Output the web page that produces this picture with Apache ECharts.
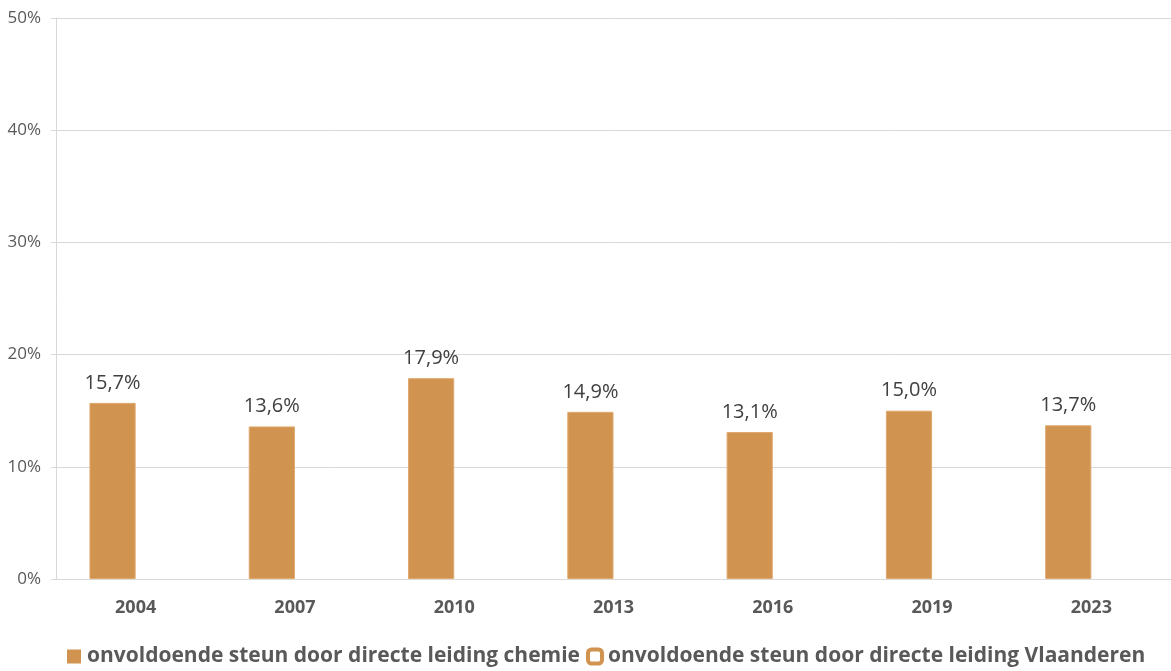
<!DOCTYPE html>
<html>
<head>
<meta charset="utf-8">
<script src="https://cdn.jsdelivr.net/npm/echarts@6/dist/echarts.min.js"></script>
<style>
  html, body { margin: 0; padding: 0; background: #fff; }
  #chart { width: 1171px; height: 671px; }
</style>
</head>
<body>
<div id="chart"></div>
<script>
const years = ['2004', '2007', '2010', '2013', '2016', '2019', '2023']
const chemie = [15.7, 13.6, 17.9, 14.9, 13.1, 15.0, 13.7]
// Vlaanderen series has no visible bars in the reference
const vlaanderen = [null, null, null, null, null, null, null]
const seriesNames = [
  'onvoldoende steun door directe leiding chemie',
  'onvoldoende steun door directe leiding Vlaanderen',
]

const orange = '#D09350'
const font = '"Open Sans", "Noto Sans", sans-serif'

const chart = echarts.init(document.getElementById('chart'))

chart.setOption({
  animation: false,
  textStyle: { fontFamily: font },
  grid: { left: 56, right: 0, top: 18, bottom: 92, containLabel: false },
  legend: {
    top: 641,
    left: 62,
    itemWidth: 14,
    itemHeight: 14,
    itemGap: 6,
    textStyle: { fontFamily: font, fontSize: 21, fontWeight: 'bold', color: '#595959', padding: [0, 0, 0, 1] },
    data: [
      { name: seriesNames[0], icon: 'rect', itemStyle: { borderWidth: 0 } },
      { name: seriesNames[1], icon: 'roundRect', itemStyle: { color: '#ffffff', borderColor: orange, borderWidth: 4 } },
    ],
  },
  xAxis: {
    type: 'category',
    data: years,
    axisLine: { lineStyle: { color: '#d9d9d9', width: 1 } },
    axisTick: { show: false },
    axisLabel: { fontFamily: font, fontSize: 18, fontWeight: 'bold', color: '#595959', margin: 20 },
  },
  yAxis: {
    type: 'value',
    min: 0,
    max: 50,
    interval: 10,
    axisLine: { show: true, lineStyle: { color: '#d9d9d9' } },
    axisTick: { show: true, length: 5, lineStyle: { color: '#d9d9d9' } },
    splitLine: { lineStyle: { color: '#d9d9d9' } },
    axisLabel: {
      fontFamily: font,
      fontSize: 17,
      color: '#595959',
      margin: 15,
      formatter: (v) => v + '%',
    },
  },
  series: [
    {
      name: seriesNames[0],
      type: 'bar',
      data: chemie,
      barGap: '0%',
      barCategoryGap: '42%',
      itemStyle: { color: orange, borderColor: '#E0A96E', borderWidth: 1 },
      label: {
        show: true,
        position: 'top',
        distance: 10,
        fontFamily: font,
        fontSize: 20,
        color: '#404040',
        formatter: (p) => p.value.toFixed(1).replace('.', ',') + '%',
      },
    },
    {
      name: seriesNames[1],
      type: 'bar',
      data: vlaanderen,
      itemStyle: { color: '#ffffff', borderColor: orange, borderWidth: 3 },
    },
  ],
})
</script>
</body>
</html>
